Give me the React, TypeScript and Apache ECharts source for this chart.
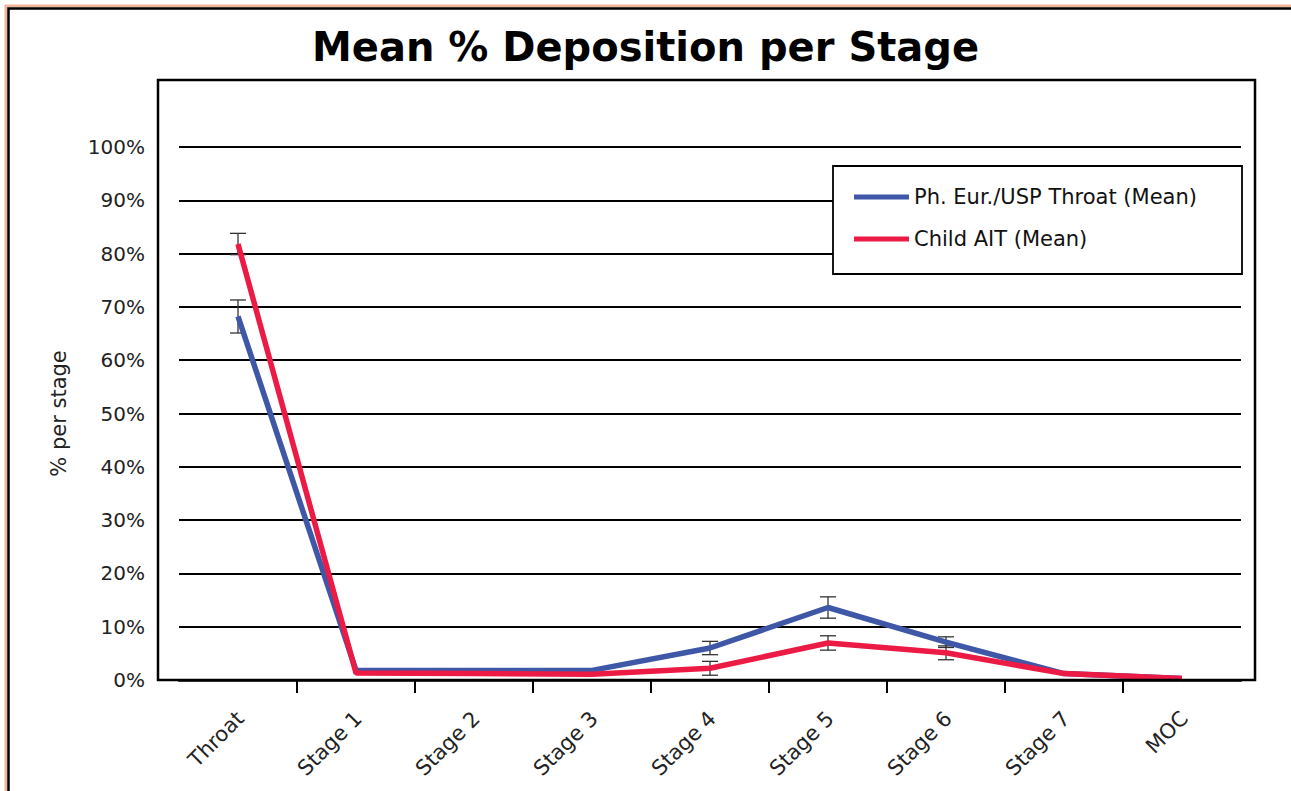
import React, { useEffect, useRef } from "react";
import * as echarts from "echarts";

const categories = ["Throat", "Stage 1", "Stage 2", "Stage 3", "Stage 4", "Stage 5", "Stage 6", "Stage 7", "MOC"];
const phEurMean = [68.2, 1.8, 1.8, 1.8, 6.0, 13.6, 7.1, 1.2, 0.3];
const phEurSD = [3.1, 0, 0, 0, 1.25, 2.0, 1.0, 0, 0];
const childAitMean = [81.8, 1.3, 1.2, 1.1, 2.2, 6.95, 5.1, 1.2, 0.3];
const childAitSD = [2.0, 0, 0, 0, 1.3, 1.35, 1.3, 0, 0];
const yTicks = [0, 10, 20, 30, 40, 50, 60, 70, 80, 90, 100];

const seriesNames = ["Ph. Eur./USP Throat (Mean)", "Child AIT (Mean)"];
const FONT = "DejaVu Sans";

export default function App() {
  const ref = useRef<HTMLDivElement>(null);
  useEffect(() => {
    if (!ref.current) return;
    const chart = echarts.init(ref.current, null, { renderer: "svg" });
    const errData = (mean: number[], sd: number[]) =>
      mean.map((m, i) => [i, m - sd[i], m + sd[i]]).filter((_, i) => sd[i] > 0);
    const errRender = (params: any, api: any) => {
      const x = api.value(0);
      const lo = api.coord([x, api.value(1)]);
      const hi = api.coord([x, api.value(2)]);
      const w = 8;
      const style = { stroke: "#333", lineWidth: 1.3 };
      return {
        type: "group",
        children: [
          { type: "line", shape: { x1: hi[0], y1: hi[1], x2: lo[0], y2: lo[1] }, style },
          { type: "line", shape: { x1: hi[0] - w, y1: hi[1], x2: hi[0] + w, y2: hi[1] }, style },
          { type: "line", shape: { x1: lo[0] - w, y1: lo[1], x2: lo[0] + w, y2: lo[1] }, style },
        ],
      };
    };
    const n = categories.length;
    const tickVals = categories.slice(1).map((_, i) => i + 0.5);
    const labelVals = categories.map((_, i) => i);
    chart.setOption({
      animation: false,
      backgroundColor: "#fff",
      title: {
        text: "Mean % Deposition per Stage",
        left: "center",
        top: 22,
        textStyle: { fontFamily: FONT, fontSize: 40, fontWeight: "bold", color: "#000" },
      },
      graphic: [
        { type: "rect", shape: { x: 6, y: 6, width: 1400, height: 900 }, style: { fill: "none", stroke: "#f2b49a", lineWidth: 3 }, z: 1 },
        { type: "rect", shape: { x: 8.5, y: 8.5, width: 1400, height: 900 }, style: { fill: "none", stroke: "#000", lineWidth: 2.5 }, z: 1 },
        { type: "rect", shape: { x: 158, y: 80, width: 1097, height: 600 }, style: { fill: "none", stroke: "#000", lineWidth: 2.5 }, z: 3 },
        { type: "rect", shape: { x: 833, y: 166, width: 409, height: 108 }, style: { fill: "#fff", stroke: "#000", lineWidth: 1.8 }, z: 3 },
      ],
      legend: {
        data: seriesNames.map((name) => ({ name, icon: "rect" })),
        orient: "vertical",
        left: 854,
        top: 185,
        padding: 0,
        itemWidth: 55,
        itemHeight: 5,
        itemGap: 18,
        z: 5,
        textStyle: { fontFamily: FONT, fontSize: 21, color: "#111", lineHeight: 24 },
      },
      grid: { left: 179, right: 50, top: 147, bottom: 111 },
      xAxis: [
        {
          type: "category",
          data: categories,
          boundaryGap: true,
          position: "bottom",
          axisLine: { show: true, lineStyle: { color: "#000", width: 2.5 } },
          axisTick: { show: false },
          axisLabel: { show: false },
          splitLine: { show: false },
        },
        {
          type: "value",
          min: -0.5,
          max: n - 0.5,
          position: "bottom",
          offset: 0,
          axisLine: { show: false },
          axisTick: { show: true, length: 13, lineStyle: { color: "#000", width: 2 }, customValues: tickVals },
          axisLabel: { show: false },
          splitLine: { show: false },
        },
        {
          type: "value",
          min: -0.52,
          max: n - 0.52,
          position: "bottom",
          offset: 0,
          axisLine: { show: false },
          axisTick: { show: false },
          splitLine: { show: false },
          axisLabel: {
            show: true,
            customValues: labelVals,
            rotate: 45,
            margin: 35,
            fontFamily: FONT,
            fontSize: 21,
            color: "#222",
            formatter: (v: number) => categories[Math.round(v)] ?? "",
          },
        },
      ],
      yAxis: {
        type: "value",
        min: 0,
        max: 100,
        interval: 10,
        name: "% per stage",
        nameLocation: "middle",
        nameGap: 110,
        nameTextStyle: { fontFamily: FONT, fontSize: 21, color: "#222" },
        axisLine: { show: false },
        axisTick: { show: false },
        axisLabel: { formatter: "{value}%", margin: 34, fontFamily: FONT, fontSize: 20, color: "#222", customValues: yTicks },
        splitLine: { show: true, lineStyle: { color: "#000", width: 1.8 } },
      },
      series: [
        {
          type: "custom",
          name: "errPh",
          xAxisIndex: 0,
          renderItem: errRender,
          encode: { x: 0, y: [1, 2] },
          data: errData(phEurMean, phEurSD),
          z: 1,
        },
        {
          type: "custom",
          name: "errChild",
          xAxisIndex: 0,
          renderItem: errRender,
          encode: { x: 0, y: [1, 2] },
          data: errData(childAitMean, childAitSD),
          z: 1,
        },
        {
          type: "line",
          name: seriesNames[0],
          xAxisIndex: 0,
          data: phEurMean,
          symbol: "none",
          color: "#3F57A7",
          lineStyle: { width: 5.5, color: "#3F57A7" },
          z: 2,
        },
        {
          type: "line",
          name: seriesNames[1],
          xAxisIndex: 0,
          data: childAitMean,
          symbol: "none",
          color: "#EC1B45",
          lineStyle: { width: 5.5, color: "#EC1B45" },
          z: 2,
        },
      ],
    });
    return () => chart.dispose();
  }, []);
  return (
    <div
      ref={ref}
      style={{ position: "fixed", left: 0, top: 0, width: 1291, height: 791 }}
    />
  );
}
